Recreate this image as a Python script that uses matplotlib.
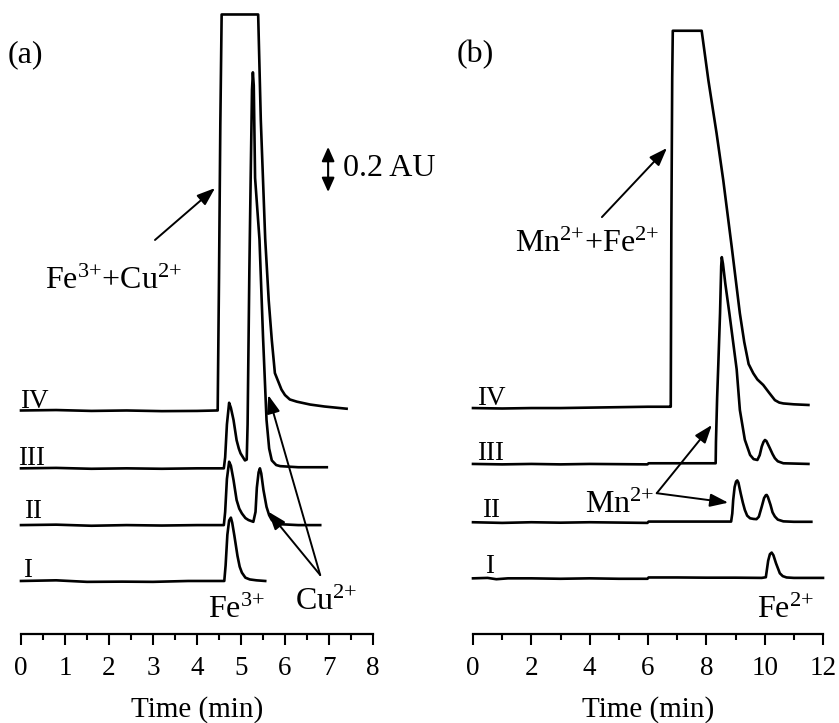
import matplotlib
matplotlib.use("Agg")
import matplotlib.pyplot as plt
from matplotlib.ticker import MultipleLocator

plt.rcParams['font.family'] = ['Liberation Serif', 'DejaVu Serif']
plt.rcParams['mathtext.fontset'] = 'custom'
plt.rcParams['mathtext.rm'] = 'Liberation Serif'
plt.rcParams['mathtext.it'] = 'Liberation Serif:italic'
plt.rcParams['mathtext.bf'] = 'Liberation Serif:bold'

# ---------------- data: panel (a) ----------------
trace_labels = ["I", "II", "III", "IV"]
a_offsets = [0.241, 0.495, 0.753, 1.016]

a_I_t = [0.0, 0.8, 1.5, 2.3, 3.0, 3.8, 4.3, 4.62, 4.65, 4.69, 4.73, 4.77, 4.80, 4.85,
         4.92, 4.97, 5.02, 5.10, 5.20, 5.35, 5.55]
a_I_y = [0.0, 0.003, -0.004, -0.003, -0.004, 0.0, 0.0, 0.0, 0.07, 0.21, 0.275, 0.288,
         0.265, 0.205, 0.114, 0.065, 0.038, 0.015, 0.007, 0.003, 0.0]

a_II_t = [0.0, 0.8, 1.6, 2.4, 3.2, 4.0, 4.61, 4.64, 4.68, 4.73, 4.77, 4.83, 4.90, 4.96,
          5.02, 5.10, 5.17, 5.28, 5.33, 5.36, 5.40, 5.43, 5.46, 5.51, 5.58, 5.64, 5.70,
          5.80, 5.89, 6.30, 6.80]
a_II_y = [0.0, 0.002, -0.003, 0.0, -0.002, 0.0, 0.0, 0.06, 0.21, 0.288, 0.27, 0.205,
          0.114, 0.075, 0.053, 0.032, 0.023, 0.015, 0.06, 0.17, 0.24, 0.258, 0.235, 0.16,
          0.083, 0.045, 0.023, 0.008, 0.004, 0.0, 0.0]

a_III_t = [0.0, 0.8, 1.6, 2.4, 3.2, 4.0, 4.61, 4.64, 4.68, 4.73, 4.77, 4.83, 4.90, 4.95,
           4.99, 5.09, 5.13, 5.15, 5.19, 5.22, 5.25, 5.27, 5.29, 5.32, 5.42, 5.50, 5.58,
           5.64, 5.70, 5.80, 5.89, 6.30, 6.95]
a_III_y = [0.0, 0.002, -0.002, 0.0, -0.002, 0.0, 0.0, 0.05, 0.20, 0.298, 0.275, 0.22,
           0.128, 0.09, 0.068, 0.036, 0.04, 0.20, 0.90, 1.32, 1.72, 1.80, 1.74, 1.32,
           1.04, 0.60, 0.22, 0.09, 0.036, 0.015, 0.01, 0.005, 0.005]

a_IV_t = [0.0, 0.8, 1.6, 2.4, 3.2, 4.0, 4.45, 4.47, 4.50, 4.53, 4.56, 5.39, 5.45, 5.55,
          5.63, 5.70, 5.77, 5.85, 5.92, 6.00, 6.11, 6.27, 6.57, 6.90, 7.40]
a_IV_y = [0.0, 0.002, -0.002, 0.0, -0.003, -0.002, 0.0, 0.0, 0.60, 1.30, 1.80, 1.80,
          1.32, 0.78, 0.50, 0.32, 0.17, 0.13, 0.095, 0.07, 0.05, 0.04, 0.027, 0.018, 0.008]

# ---------------- data: panel (b) ----------------
b_offsets = [0.253, 0.508, 0.773, 1.027]

b_I_t = [0.0, 0.5, 0.8, 1.2, 2.0, 3.0, 4.0, 5.0, 5.98, 6.02, 7.0, 8.0, 9.0, 9.9, 10.04,
         10.12, 10.18, 10.24, 10.30, 10.39, 10.52, 10.62, 10.75, 11.0, 12.0]
b_I_y = [0.0, 0.002, -0.004, 0.0, 0.0, -0.002, 0.0, -0.002, -0.002, 0.004, 0.004, 0.003,
         0.003, 0.002, 0.005, 0.08, 0.11, 0.117, 0.105, 0.068, 0.023, 0.01, 0.004, 0.002, 0.002]

b_II_t = [0.0, 1.0, 2.0, 3.0, 4.0, 5.98, 6.02, 7.0, 8.0, 8.85, 8.89, 8.92, 8.97, 9.02,
          9.06, 9.10, 9.18, 9.25, 9.32, 9.40, 9.50, 9.62, 9.72, 9.80, 9.90, 9.98, 10.04,
          10.07, 10.11, 10.20, 10.27, 10.35, 10.45, 10.64, 11.0, 11.6]
b_II_y = [0.0, -0.003, 0.0, -0.002, 0.0, -0.003, 0.003, 0.003, 0.003, 0.003, 0.04, 0.10,
          0.16, 0.185, 0.19, 0.18, 0.13, 0.09, 0.056, 0.03, 0.018, 0.015, 0.014, 0.025,
          0.071, 0.11, 0.123, 0.124, 0.115, 0.079, 0.045, 0.026, 0.012, 0.004, 0.002, 0.002]

b_III_t = [0.0, 1.0, 2.0, 3.0, 4.0, 5.98, 6.02, 7.0, 8.0, 8.32, 8.33, 8.37, 8.41, 8.47,
           8.51, 8.53, 8.57, 8.65, 8.79, 9.04, 9.15, 9.32, 9.50, 9.62, 9.75, 9.83, 9.90,
           9.96, 10.01, 10.06, 10.18, 10.27, 10.35, 10.45, 10.64, 11.5]
b_III_y = [0.0, -0.002, 0.0, -0.002, 0.0, -0.002, 0.003, 0.003, 0.003, 0.003, 0.10, 0.30,
           0.45, 0.685, 0.90, 0.94, 0.91, 0.82, 0.685, 0.43, 0.245, 0.11, 0.041, 0.022,
           0.018, 0.04, 0.079, 0.10, 0.109, 0.104, 0.071, 0.045, 0.026, 0.012, 0.003, 0.0]

b_IV_t = [0.0, 1.0, 2.0, 3.0, 4.0, 5.0, 6.0, 6.76, 6.78, 6.80, 6.83, 6.85, 7.84, 8.07,
          8.35, 8.58, 8.87, 9.15, 9.30, 9.45, 9.61, 9.75, 9.95, 10.15, 10.35, 10.50,
          10.64, 11.0, 11.5]
b_IV_y = [0.0, -0.002, 0.0, 0.0, 0.002, 0.004, 0.006, 0.006, 0.006, 0.80, 1.50, 1.715,
          1.715, 1.49, 1.25, 1.036, 0.733, 0.43, 0.30, 0.20, 0.158, 0.13, 0.105, 0.07,
          0.036, 0.025, 0.021, 0.017, 0.014]

a_traces = [(a_I_t, a_I_y), (a_II_t, a_II_y), (a_III_t, a_III_y), (a_IV_t, a_IV_y)]
b_traces = [(b_I_t, b_I_y), (b_II_t, b_II_y), (b_III_t, b_III_y), (b_IV_t, b_IV_y)]

a_xticks = [0, 1, 2, 3, 4, 5, 6, 7, 8]
b_xticks = [0, 2, 4, 6, 8, 10, 12]

# ---------------- figure ----------------
W, H = 839, 723
fig = plt.figure(figsize=(W / 100, H / 100), dpi=100)

YTOP = 634 / 220.0
axb_bottom = (H - 634) / H
axb_height = 634 / H

ax_a = fig.add_axes([21 / W, axb_bottom, 352 / W, axb_height])
ax_b = fig.add_axes([473 / W, axb_bottom, 350 / W, axb_height])

LW = 1.9
TICK_FS = 19.5
LBL_FS = 19.5
XLBL_FS = 21
ANN_FS = 23

def style_axis(ax, xmax, xticks, minor):
    ax.set_xlim(0, xmax)
    ax.set_ylim(0, YTOP)
    for s in ['left', 'right', 'top']:
        ax.spines[s].set_visible(False)
    ax.spines['bottom'].set_linewidth(1.6)
    ax.set_yticks([])
    ax.set_xticks(xticks)
    ax.xaxis.set_minor_locator(MultipleLocator(minor))
    ax.tick_params(axis='x', which='major', direction='out', length=8, width=1.5,
                   labelsize=TICK_FS, pad=8)
    ax.tick_params(axis='x', which='minor', direction='out', length=4.5, width=1.5)
    ax.set_xlabel('Time (min)', fontsize=XLBL_FS, labelpad=11)
    ax.patch.set_visible(False)

style_axis(ax_a, 8, a_xticks, 0.5)
style_axis(ax_b, 12, b_xticks, 1)

for (t, y), off in zip(a_traces, a_offsets):
    ax_a.plot(t, [v + off for v in y], color='black', lw=LW, solid_joinstyle='round',
              clip_on=False)
for (t, y), off in zip(b_traces, b_offsets):
    ax_b.plot(t, [v + off for v in y], color='black', lw=LW, solid_joinstyle='round',
              clip_on=False)

# trace labels
a_lbl_x = [0.05, 0.07, -0.07, -0.02]
b_lbl_x = [0.41, 0.31, 0.137, 0.137]
a_lbl_dy = [0.018, 0.032, 0.013, 0.011]
b_lbl_dy = [0.024, 0.024, 0.018, 0.014]
for lab, x, off, dy in zip(trace_labels, a_lbl_x, a_offsets, a_lbl_dy):
    ax_a.text(x, off + dy, lab, fontsize=LBL_FS, ha='left', va='baseline')
for lab, x, off, dy in zip(trace_labels, b_lbl_x, b_offsets, b_lbl_dy):
    ax_b.text(x, off + dy, lab, fontsize=LBL_FS, ha='left', va='baseline')

# panel letters
fig.text(8 / W, 1 - 55 / H, '(a)', fontsize=ANN_FS, ha='left', va='center')
fig.text(457 / W, 1 - 55 / H, '(b)', fontsize=ANN_FS, ha='left', va='center')

arrow_kw = dict(arrowstyle='-|>,head_length=1.1,head_width=0.4', color='black',
                lw=1.4, shrinkA=0, shrinkB=0)

# panel (a) annotations
ax_a.text(0.545, 1.568, 'Fe$^{3{+}}$+Cu$^{2{+}}$', fontsize=ANN_FS, ha='left', va='baseline')
ax_a.annotate('', xy=(4.41, 2.027), xytext=(3.045, 1.791), arrowprops=arrow_kw,
              annotation_clip=False)
ax_a.text(4.89, 0.073, 'Fe$^{3{+}}$', fontsize=ANN_FS, ha='center', va='baseline')
ax_a.text(6.93, 0.109, 'Cu$^{2{+}}$', fontsize=ANN_FS, ha='center', va='baseline')
ax_a.annotate('', xy=(5.62, 0.556), xytext=(6.80, 0.268), arrowprops=arrow_kw,
              annotation_clip=False)
ax_a.annotate('', xy=(5.62, 1.086), xytext=(6.80, 0.268), arrowprops=arrow_kw,
              annotation_clip=False)
# scale bar 0.2 AU
dbl_kw = dict(arrowstyle='<|-|>,head_length=0.85,head_width=0.38', color='black',
              lw=1.5, shrinkA=0, shrinkB=0)
ax_a.annotate('', xy=(6.98, 2.214), xytext=(6.98, 2.009), arrowprops=dbl_kw,
              annotation_clip=False)
ax_a.text(7.32, 2.118, '0.2 AU', fontsize=ANN_FS, ha='left', va='center', clip_on=False)

# panel (b) annotations
ax_b.text(1.44, 1.736, 'Mn$^{2{+}}$+Fe$^{2{+}}$', fontsize=ANN_FS, ha='left', va='baseline')
ax_b.annotate('', xy=(6.65, 2.209), xytext=(4.42, 1.895), arrowprops=arrow_kw,
              annotation_clip=False)
ax_b.text(3.84, 0.55, 'Mn$^{2{+}}$', fontsize=ANN_FS, ha='left', va='baseline')
ax_b.annotate('', xy=(8.19, 0.95), xytext=(6.30, 0.64), arrowprops=arrow_kw,
              annotation_clip=False)
ax_b.annotate('', xy=(8.75, 0.597), xytext=(6.30, 0.64), arrowprops=arrow_kw,
              annotation_clip=False)
ax_b.text(10.71, 0.073, 'Fe$^{2{+}}$', fontsize=ANN_FS, ha='center', va='baseline')

fig.savefig('out.png', dpi=100)
